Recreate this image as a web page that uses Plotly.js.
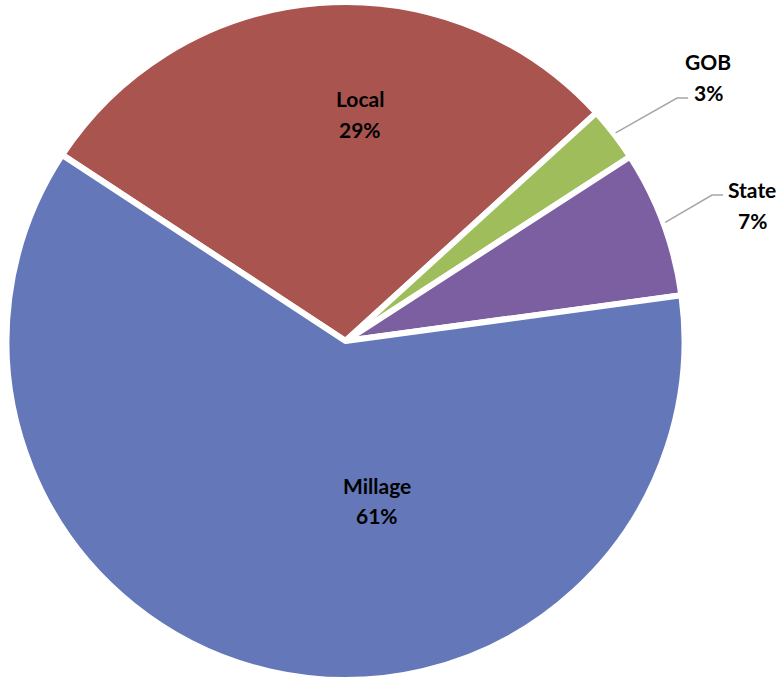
<!DOCTYPE html>
<html>
<head>
<meta charset="utf-8">
<script src="https://cdn.plot.ly/plotly-3.0.1.min.js"></script>
<style>html,body{margin:0;padding:0;background:#fff;}#chart{width:783px;height:683px;}</style>
</head>
<body>
<div id="chart"></div>
<script>
// Data (order drawn clockwise, starting with Local)
var categories = ["Local", "GOB", "State", "Millage"];
var values = [29.0, 2.6, 7.0, 61.4];
var colors = ["#a9544e", "#a0bd5c", "#7b5fa0", "#6478b9"];

var W = 783, H = 683;
var cx = 345.5, cy = 341, R = 336;   // visible radius
var borderW = 6;
var Rd = R + borderW / 2;            // domain radius (stroke eats half the border)
var rotationDeg = -56.7;

function px(x) { return x / W; }
function py(y) { return 1 - y / H; }

var total = values.reduce(function (a, b) { return a + b; }, 0);
var pctText = values.map(function (v) { return Math.round(v / total * 100) + "%"; });

// label placement (pixel centres) and leader elbows for outside labels
var labelPos = {
  "Local":   {x: 360, y1: 99,  y2: 129},
  "GOB":     {x: 708, y1: 62,  y2: 92},
  "State":   {x: 752, y1: 190, y2: 220},
  "Millage": {x: 377, y1: 485, y2: 515}
};
var leaders = {
  "GOB":   [[677, 98], [688, 98]],
  "State": [[712, 195], [723, 195]]
};

var annotations = [];
var shapes = [];
var acc = 0;
categories.forEach(function (c, i) {
  var mid = rotationDeg + (acc + values[i] / 2) / total * 360;
  acc += values[i];
  var p = labelPos[c];
  [c, pctText[i]].forEach(function (t, k) {
    annotations.push({
      xref: "paper", yref: "paper",
      x: px(p.x), y: py(k === 0 ? p.y1 : p.y2),
      xanchor: "center", yanchor: "middle",
      text: t, showarrow: false,
      font: {family: "Lato, 'Open Sans', sans-serif", size: 21, color: "#000", weight: 700}
    });
  });
  if (leaders[c]) {
    var a = mid * Math.PI / 180;
    var sx = cx + (R + 5) * Math.sin(a), sy = cy - (R + 5) * Math.cos(a);
    var pts = [[sx, sy]].concat(leaders[c]);
    var path = pts.map(function (q, j) { return (j ? "L " : "M ") + px(q[0]) + " " + py(q[1]); }).join(" ");
    shapes.push({type: "path", xref: "paper", yref: "paper", path: path,
      line: {color: "#a6a6a6", width: 1.5}});
  }
});

var trace = {
  type: "pie",
  labels: categories,
  values: values,
  sort: false,
  direction: "clockwise",
  rotation: rotationDeg,
  textinfo: "none",
  hoverinfo: "none",
  marker: {colors: colors, line: {color: "#ffffff", width: borderW}},
  domain: {x: [px(cx - Rd), px(cx + Rd)], y: [py(cy + Rd), py(cy - Rd)]},
  showlegend: false
};

var layout = {
  width: W, height: H,
  margin: {l: 0, r: 0, t: 0, b: 0},
  paper_bgcolor: "#ffffff",
  showlegend: false,
  annotations: annotations,
  shapes: shapes
};

Plotly.newPlot("chart", [trace], layout, {displayModeBar: false, staticPlot: true});
</script>
</body>
</html>
